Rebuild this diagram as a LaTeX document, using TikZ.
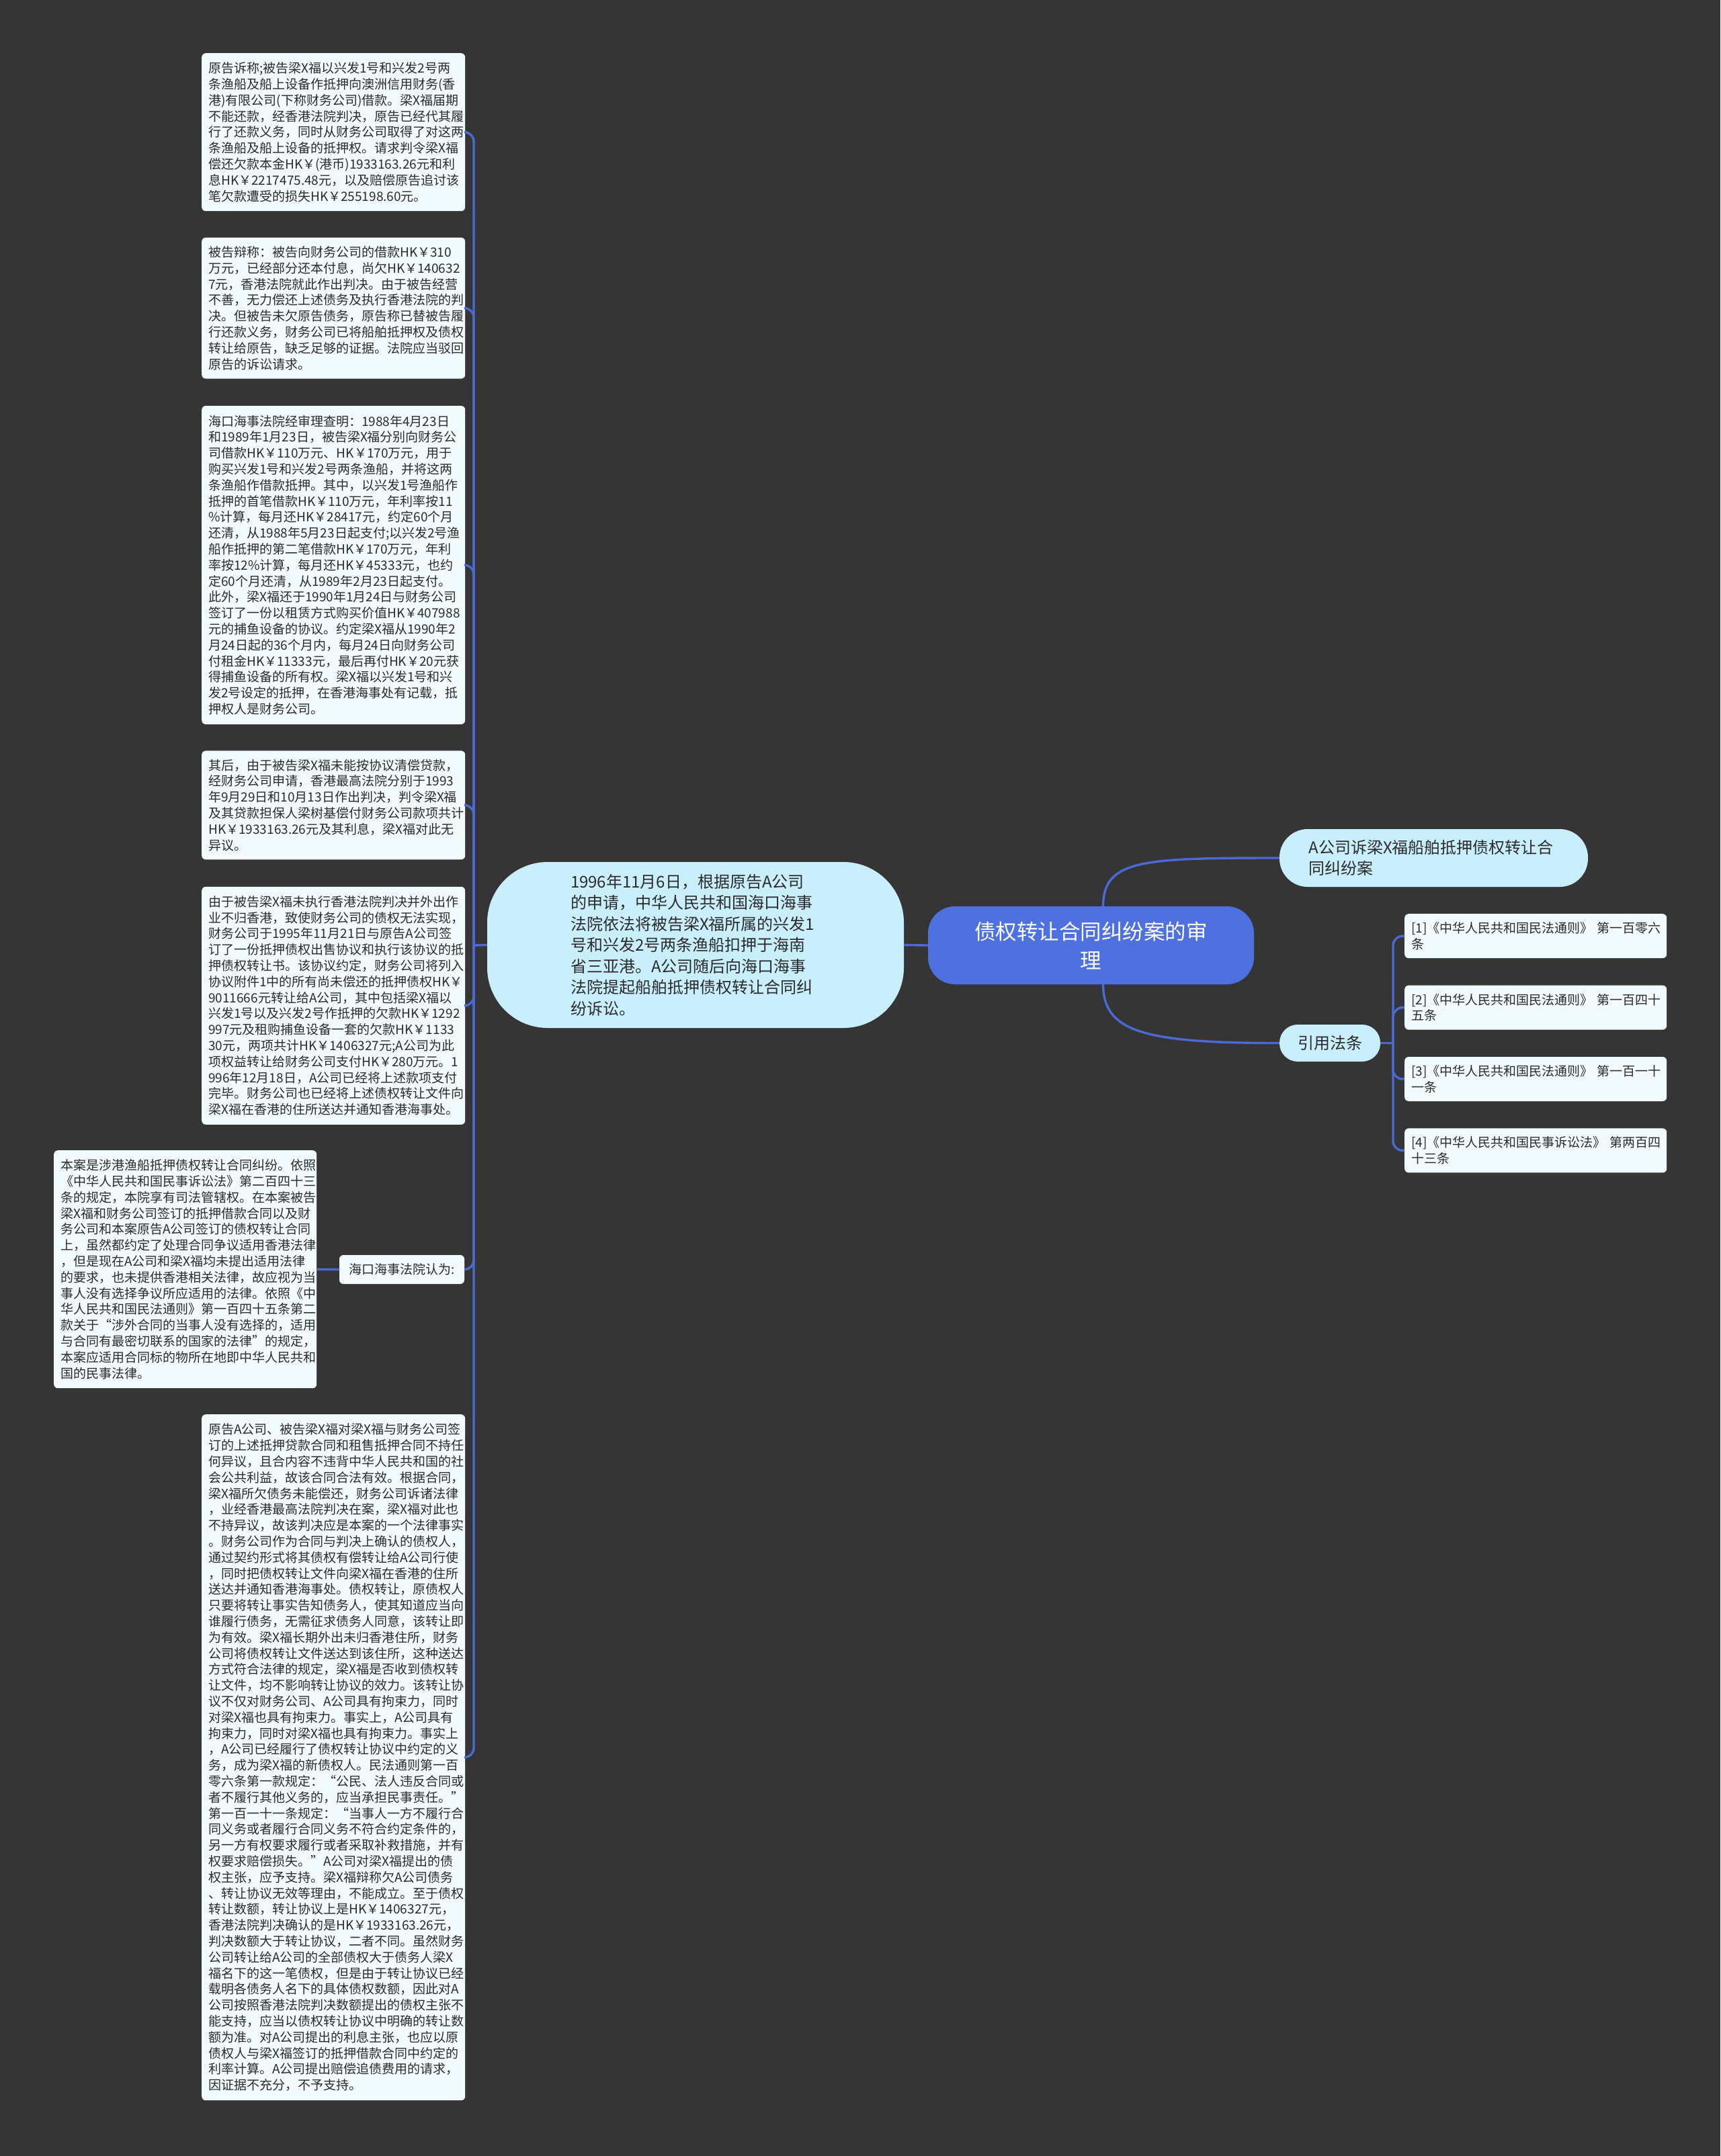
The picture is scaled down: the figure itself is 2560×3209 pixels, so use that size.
\documentclass[tikz,border=0pt]{standalone}
\usepackage{fontspec}
\setmainfont{Noto Sans CJK SC}
\usetikzlibrary{positioning}
\definecolor{backdrop}{HTML}{353535}
\definecolor{linkblue}{HTML}{4A6AD6}
\definecolor{topicblue}{HTML}{4F70DF}
\definecolor{bubblefill}{HTML}{C9EEFC}
\definecolor{notefill}{HTML}{F1FAFD}
\definecolor{inktext}{HTML}{2B2B2B}
\tikzset{link/.style = {draw = linkblue, line width = 3.4pt}}
\tikzset{textbox/.style = {fill = notefill, rounded corners = 6pt, text = inktext,
                           align = left, text width = 372pt, inner xsep = 10pt, inner ysep = 0pt,
                           font = {\fontsize{19}{23.8}\selectfont}}}
\tikzset{bubble/.style = {fill = bubblefill, text = inktext, inner ysep = 0pt,
                          font = {\fontsize{24}{31.5}\selectfont}}}
\tikzset{topic/.style = {fill = topicblue, text = white, align = center, rounded corners = 40pt,
                         minimum width = 485pt, minimum height = 116pt,
                         font = {\fontsize{31.5}{43}\selectfont}}}
\tikzset{lawitem/.style = {textbox, text width = 370pt, inner xsep = 10pt, minimum height = 66pt}}

\begin{document}
\begin{tikzpicture}[x = 1pt, y = -1pt]
    \fill [backdrop] (0, 0) rectangle (2560, 3209);

    % centre
    \node (root) at (1623.5, 1407) [topic] {债权转让合同纠纷案的审\\理};

    \node (suit) at (1035, 1406.5) [bubble, align = left, text width = 372pt, inner xsep = 124pt,
                                    minimum height = 247pt, rounded corners = 90pt]
        {1996年11月6日，根据原告A公司\\的申请，中华人民共和国海口海事\\法院依法将被告梁X福所属的兴发1\\号和兴发2号两条渔船扣押于海南\\省三亚港。A公司随后向海口海事\\法院提起船舶抵押债权转让合同纠\\纷诉讼。};

    % left column
    \node (claim) at (300, 79) [textbox, anchor = north west, minimum height = 235pt]
        {原告诉称;被告梁X福以兴发1号和兴发2号两\\条渔船及船上设备作抵押向澳洲信用财务(香\\港)有限公司(下称财务公司)借款。梁X福届期\\不能还款，经香港法院判决，原告已经代其履\\行了还款义务，同时从财务公司取得了对这两\\条渔船及船上设备的抵押权。请求判令梁X福\\偿还欠款本金HK￥(港币)1933163.26元和利\\息HK￥2217475.48元，以及赔偿原告追讨该\\笔欠款遭受的损失HK￥255198.60元。};
    \node (defence) [textbox, below = 39pt of claim, minimum height = 210pt]
        {被告辩称：被告向财务公司的借款HK￥310\\万元，已经部分还本付息，尚欠HK￥140632\\7元，香港法院就此作出判决。由于被告经营\\不善，无力偿还上述债务及执行香港法院的判\\决。但被告未欠原告债务，原告称已替被告履\\行还款义务，财务公司已将船舶抵押权及债权\\转让给原告，缺乏足够的证据。法院应当驳回\\原告的诉讼请求。};
    \node (facts) [textbox, below = 40pt of defence, minimum height = 474pt]
        {海口海事法院经审理查明：1988年4月23日\\和1989年1月23日，被告梁X福分别向财务公\\司借款HK￥110万元、HK￥170万元，用于\\购买兴发1号和兴发2号两条渔船，并将这两\\条渔船作借款抵押。其中，以兴发1号渔船作\\抵押的首笔借款HK￥110万元，年利率按11\\\%计算，每月还HK￥28417元，约定60个月\\还清，从1988年5月23日起支付;以兴发2号渔\\船作抵押的第二笔借款HK￥170万元，年利\\率按12\%计算，每月还HK￥45333元，也约\\定60个月还清，从1989年2月23日起支付。\\此外，梁X福还于1990年1月24日与财务公司\\签订了一份以租赁方式购买价值HK￥407988\\元的捕鱼设备的协议。约定梁X福从1990年2\\月24日起的36个月内，每月24日向财务公司\\付租金HK￥11333元，最后再付HK￥20元获\\得捕鱼设备的所有权。梁X福以兴发1号和兴\\发2号设定的抵押，在香港海事处有记载，抵\\押权人是财务公司。};
    \node (ruling) [textbox, below = 39pt of facts, minimum height = 162pt]
        {其后，由于被告梁X福未能按协议清偿贷款，\\经财务公司申请，香港最高法院分别于1993\\年9月29日和10月13日作出判决，判令梁X福\\及其贷款担保人梁树基偿付财务公司款项共计\\HK￥1933163.26元及其利息，梁X福对此无\\异议。};
    \node (transfer) [textbox, below = 40pt of ruling, minimum height = 354pt]
        {由于被告梁X福未执行香港法院判决并外出作\\业不归香港，致使财务公司的债权无法实现，\\财务公司于1995年11月21日与原告A公司签\\订了一份抵押债权出售协议和执行该协议的抵\\押债权转让书。该协议约定，财务公司将列入\\协议附件1中的所有尚未偿还的抵押债权HK￥\\9011666元转让给A公司，其中包括梁X福以\\兴发1号以及兴发2号作抵押的欠款HK￥1292\\997元及租购捕鱼设备一套的欠款HK￥1133\\30元，两项共计HK￥1406327元;A公司为此\\项权益转让给财务公司支付HK￥280万元。1\\996年12月18日，A公司已经将上述款项支付\\完毕。财务公司也已经将上述债权转让文件向\\梁X福在香港的住所送达并通知香港海事处。};

    \node (court) at (598, 1889.5) [textbox, align = center, text width = 166pt, minimum height = 43pt]
        {海口海事法院认为:};
    \node (jurisdiction) at (80, 1712) [textbox, anchor = north west, text width = 371pt, minimum height = 354pt]
        {本案是涉港渔船抵押债权转让合同纠纷。依照\\《中华人民共和国民事诉讼法》第二百四十三\\条的规定，本院享有司法管辖权。在本案被告\\梁X福和财务公司签订的抵押借款合同以及财\\务公司和本案原告A公司签订的债权转让合同\\上，虽然都约定了处理合同争议适用香港法律\\，但是现在A公司和梁X福均未提出适用法律\\的要求，也未提供香港相关法律，故应视为当\\事人没有选择争议所应适用的法律。依照《中\\华人民共和国民法通则》第一百四十五条第二\\款关于“涉外合同的当事人没有选择的，适用\\与合同有最密切联系的国家的法律”的规定，\\本案应适用合同标的物所在地即中华人民共和\\国的民事法律。};

    \node (reasoning) at (300, 2105) [textbox, anchor = north west, minimum height = 1021pt]
        {原告A公司、被告梁X福对梁X福与财务公司签\\订的上述抵押贷款合同和租售抵押合同不持任\\何异议，且合内容不违背中华人民共和国的社\\会公共利益，故该合同合法有效。根据合同，\\梁X福所欠债务未能偿还，财务公司诉诸法律\\，业经香港最高法院判决在案，梁X福对此也\\不持异议，故该判决应是本案的一个法律事实\\。财务公司作为合同与判决上确认的债权人，\\通过契约形式将其债权有偿转让给A公司行使\\，同时把债权转让文件向梁X福在香港的住所\\送达并通知香港海事处。债权转让，原债权人\\只要将转让事实告知债务人，使其知道应当向\\谁履行债务，无需征求债务人同意，该转让即\\为有效。梁X福长期外出未归香港住所，财务\\公司将债权转让文件送达到该住所，这种送达\\方式符合法律的规定，梁X福是否收到债权转\\让文件，均不影响转让协议的效力。该转让协\\议不仅对财务公司、A公司具有拘束力，同时\\对梁X福也具有拘束力。事实上，A公司具有\\拘束力，同时对梁X福也具有拘束力。事实上\\，A公司已经履行了债权转让协议中约定的义\\务，成为梁X福的新债权人。民法通则第一百\\零六条第一款规定：“公民、法人违反合同或\\者不履行其他义务的，应当承担民事责任。”\\第一百一十一条规定：“当事人一方不履行合\\同义务或者履行合同义务不符合约定条件的，\\另一方有权要求履行或者采取补救措施，并有\\权要求赔偿损失。”A公司对梁X福提出的债\\权主张，应予支持。梁X福辩称欠A公司债务\\、转让协议无效等理由，不能成立。至于债权\\转让数额，转让协议上是HK￥1406327元，\\香港法院判决确认的是HK￥1933163.26元，\\判决数额大于转让协议，二者不同。虽然财务\\公司转让给A公司的全部债权大于债务人梁X\\福名下的这一笔债权，但是由于转让协议已经\\载明各债务人名下的具体债权数额，因此对A\\公司按照香港法院判决数额提出的债权主张不\\能支持，应当以债权转让协议中明确的转让数\\额为准。对A公司提出的利息主张，也应以原\\债权人与梁X福签订的抵押借款合同中约定的\\利率计算。A公司提出赔偿追债费用的请求，\\因证据不充分，不予支持。};

    % right side
    \node (casetitle) at (2133.5, 1277) [bubble, align = left, text width = 372pt, inner xsep = 43.5pt,
                                         minimum height = 86pt, rounded corners = 42pt]
        {A公司诉梁X福船舶抵押债权转让合\\同纠纷案};
    \node (laws) at (1979, 1552.5) [bubble, align = center, minimum width = 150pt,
                                    minimum height = 55pt, rounded corners = 27pt] {引用法条};

    \node (law1) at (2090, 1360) [lawitem, anchor = north west]
        {[1]《中华人民共和国民法通则》~第一百零六\\条};
    \node (law2) [lawitem, below = 40pt of law1]
        {[2]《中华人民共和国民法通则》~第一百四十\\五条};
    \node (law3) [lawitem, below = 40pt of law2]
        {[3]《中华人民共和国民法通则》~第一百一十\\一条};
    \node (law4) [lawitem, below = 40pt of law3]
        {[4]《中华人民共和国民事诉讼法》~第两百四\\十三条};

    % connectors
    \coordinate (lbus) at (705, 1407);
    \coordinate (rbus) at (2073, 1552.5);
    \draw [link] (suit.west) -- (lbus);
    \foreach \n in {claim, defence, facts, ruling, transfer, court, reasoning}
        \draw [link, rounded corners = 14pt] (lbus) |- (\n.east);
    \draw [link] (court.west) -- (jurisdiction.east);
    \draw [link] (suit.east) -- (root.west);
    \draw [link] ([xshift = 18pt]root.north) .. controls (1642, 1279) and (1700, 1277) .. (casetitle.west);
    \draw [link] ([xshift = 18pt]root.south) .. controls (1642, 1535) and (1700, 1552.5) .. (laws.west);
    \draw [link] (laws.east) -- (rbus);
    \foreach \n in {law1, law2, law3, law4}
        \draw [link, rounded corners = 14pt] (rbus) |- (\n.west);
\end{tikzpicture}
\end{document}
